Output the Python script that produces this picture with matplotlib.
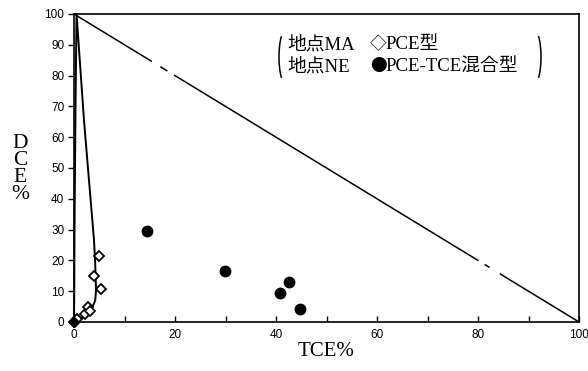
import numpy as np
import matplotlib
matplotlib.use('Agg')
import matplotlib.pyplot as plt
from matplotlib.patches import Arc

# 地点MA (PCE型): TCE %, DCE %
ma_tce = [0.0, 0.5, 2.2, 2.7, 3.2, 4.0, 5.0, 5.3]
ma_dce = [0.0, 1.1, 2.7, 4.8, 3.6, 14.8, 21.4, 10.8]

# 地点NE (PCE-TCE混合型)
ne_tce = [14.4, 29.9, 40.7, 42.6, 44.8]
ne_dce = [29.6, 16.6, 9.4, 13.0, 4.2]

# envelope around the PCE-type points (drawn by hand)
env_tce = [0.0, 0.05, 0.1, 0.3, 0.5, 2.0, 3.96, 4.2, 4.36, 4.2, 3.8, 3.17, 1.85, 0.8, 0.0]
env_dce = [0.0, 10.0, 30.0, 70.0, 100.0, 65.0, 26.6, 19.0, 10.3, 7.0, 5.4, 3.2, 1.6, 0.6, 0.0]

# TCE + DCE = 100 line, broken into pieces (x where pieces start / end)
diag_pieces = [(0.0, 15.4), (17.1, 18.5), (19.8, 80.1), (81.3, 82.3), (84.3, 100.0)]

tick_font = ['Liberation Sans', 'DejaVu Sans']
serif = ['Liberation Serif', 'Noto Sans CJK JP', 'DejaVu Sans']
cjk = ['Noto Sans CJK JP', 'DejaVu Sans']

fig = plt.figure(figsize=(5.88, 3.71), dpi=100)
ax = fig.add_axes([74/588, 1-322/371, (579-74)/588, (322-14)/371])

for a, b in diag_pieces:
    xs = np.array([a, b])
    ax.plot(xs, 100 - xs, color='black', lw=1.1, solid_capstyle='butt')

ax.plot(env_tce, env_dce, color='black', lw=1.4, clip_on=False)

ax.plot(ma_tce, ma_dce, 'D', ms=5.5, mfc='white', mec='black', mew=1.3, clip_on=False, zorder=5)
ax.plot([0], [0], 'D', ms=5.5, color='black', clip_on=False, zorder=6)
ax.plot(ne_tce, ne_dce, 'o', ms=7.5, color='black', clip_on=False, zorder=5)

ax.set_xlim(0, 100)
ax.set_ylim(0, 100)
for s in ax.spines.values():
    s.set_linewidth(1.2)

ax.set_xticks(range(0, 101, 20))
ax.set_xticks(range(10, 100, 20), minor=True)
ax.set_yticks(range(0, 101, 10))
ax.tick_params(axis='x', which='both', direction='in', length=4, width=1, pad=5)
ax.tick_params(axis='y', direction='out', length=4, width=1, pad=3)
for lab in ax.get_xticklabels() + ax.get_yticklabels():
    lab.set_family(tick_font)
    lab.set_fontsize(8.5)

ax.set_xlabel('TCE%', family=serif, fontsize=15, labelpad=1)
fig.text(20/588, 1-169/371, 'D\nC\nE\n%', family=serif, fontsize=15.5,
         ha='center', va='center', linespacing=0.85)

# legend written as text
fs = 13.5
ax.text(42.2, 90.0, '地点MA', family=serif, fontsize=fs, va='center')
ax.text(42.2, 83.0, '地点NE', family=serif, fontsize=fs, va='center')
ax.text(58.6, 90.0, '◇', family=cjk, fontsize=12, va='center')
ax.text(61.6, 90.0, 'PCE型', family=serif, fontsize=fs, va='center')
ax.text(58.6, 83.0, '●', family=cjk, fontsize=12, va='center')
ax.text(61.6, 83.0, 'PCE-TCE混合型', family=serif, fontsize=fs, va='center')

# brackets around the legend
px = fig.dpi_scale_trans
h = 58 / 100
w = 16 / 100
fig.patches.append(Arc((287/100, (371-57)/100), w, h, theta1=105, theta2=255,
                       transform=px, color='black', lw=1.1))
fig.patches.append(Arc((533/100, (371-57)/100), w, h, theta1=-75, theta2=75,
                       transform=px, color='black', lw=1.1))

fig.savefig('out.png', dpi=100, facecolor='white')
